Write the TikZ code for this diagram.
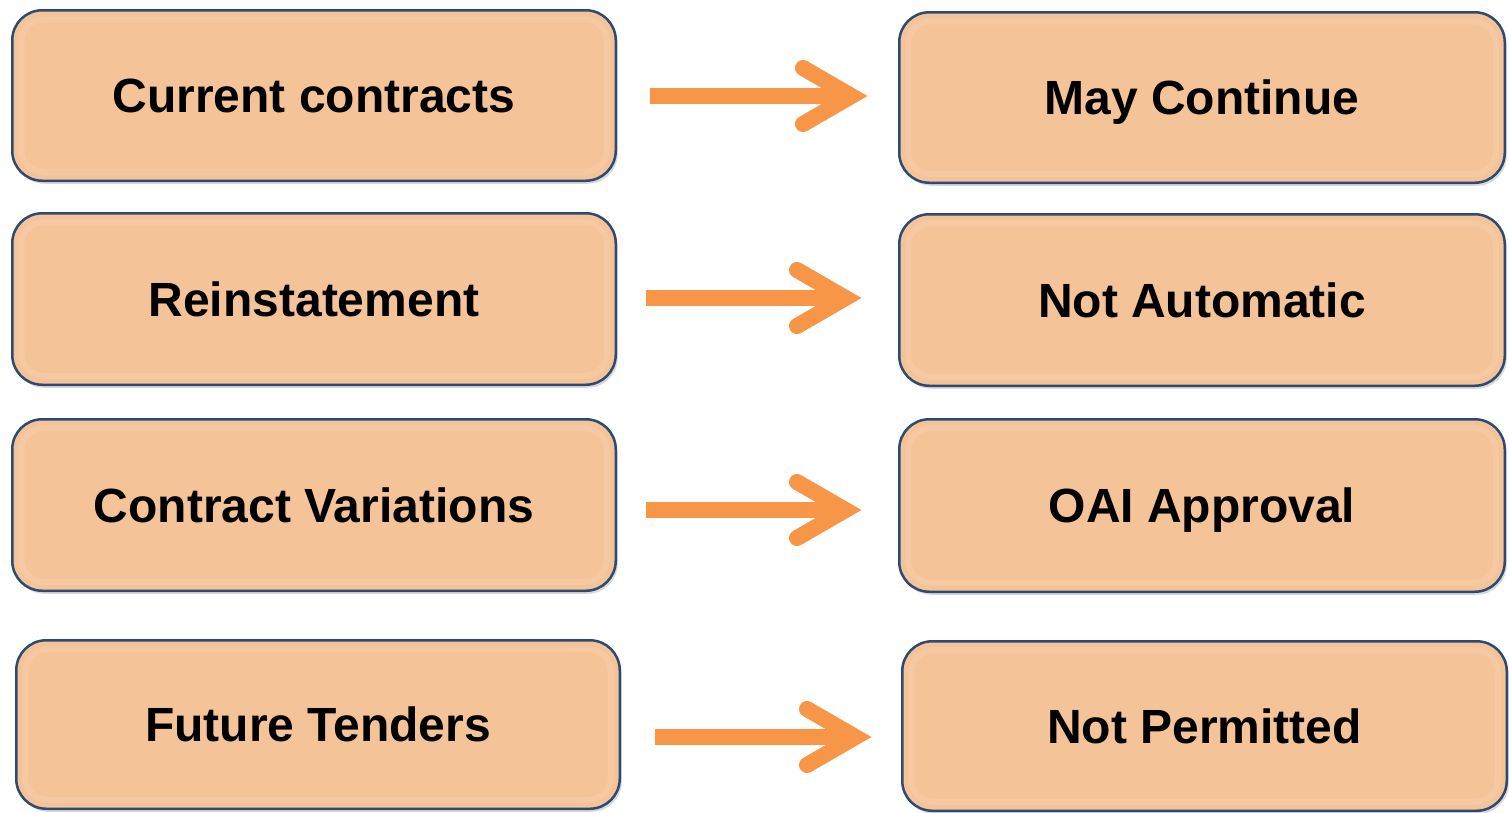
\documentclass[tikz,border=0pt]{standalone}
\usepackage{fontspec}
\setmainfont{Liberation Sans}
\usetikzlibrary{calc,shadows}
\definecolor{boxfill}{HTML}{F5C398}
\definecolor{boxline}{HTML}{2C4A73}
\definecolor{arrowc}{HTML}{F79646}
\newcommand\orarrow[2]{%
  \draw[shaftline] (#1) -- ($(#2)+(-24,0)$);
  \draw[barbline] ($(#2)+(-65,-28)$) -- ($(#2)+(-16.5,0)$) -- ($(#2)+(-65,28)$);
}
\tikzset{
  box/.style={draw=boxline, line width=2.5pt, fill=boxfill, rounded corners=30pt,
    minimum width=#1, inner sep=0pt, text height=34.4pt, text depth=0pt,
    font=\fontsize{48}{58}\selectfont\bfseries,
    drop shadow={shadow xshift=2pt, shadow yshift=-3pt, opacity=0.25, fill=black!60},
    path picture={
      \draw[white, opacity=0.1, line width=6pt, rounded corners=22pt]
        ([shift={(9pt,-9pt)}]path picture bounding box.north west) rectangle
        ([shift={(-9pt,9pt)}]path picture bounding box.south east);
    }},
  box/.default=603.5pt,
  shaftline/.style={arrowc, line width=16pt, line cap=butt},
  barbline/.style={arrowc, line width=16pt, line cap=round, line join=miter}
}
\begin{document}
\begin{tikzpicture}[x=1pt,y=-1pt]
\useasboundingbox (0,0) rectangle (1509,812);
% left column
\node[box, minimum height=170.5pt] (L1) at (314,95.5) {Current contracts};
\node[box, minimum height=171.5pt] (L2) at (314,299) {Reinstatement};
\node[box, minimum height=171.5pt] (L3) at (314,505) {Contract Variations};
\node[box, minimum height=168.5pt] (L4) at (318,724.5) {Future Tenders};
% right column
\node[box=605.5pt, minimum height=170.5pt] (R1) at (1202,97.5) {May Continue};
\node[box=605.5pt, minimum height=171.5pt] (R2) at (1202,300) {Not Automatic};
\node[box=605.5pt, minimum height=172.5pt] (R3) at (1202,505.5) {OAI Approval};
\node[box=604.5pt, minimum height=169.5pt] (R4) at (1204.5,726) {Not Permitted};
% arrows
\coordinate (a1s) at ($(L1.east)+(33,0.5)$);
\coordinate (a1e) at ($(R1.west)+(-30,-1.5)$);
\coordinate (a2s) at ($(L2.east)+(29,-1)$);
\coordinate (a2e) at ($(R2.west)+(-36,-2)$);
\coordinate (a3s) at ($(L3.east)+(29,5)$);
\coordinate (a3e) at ($(R3.west)+(-36,4.5)$);
\coordinate (a4s) at ($(L4.east)+(34,12.5)$);
\coordinate (a4e) at ($(R4.west)+(-29,11)$);
\orarrow{a1s}{a1e}
\orarrow{a2s}{a2e}
\orarrow{a3s}{a3e}
\orarrow{a4s}{a4e}
\end{tikzpicture}
\end{document}
